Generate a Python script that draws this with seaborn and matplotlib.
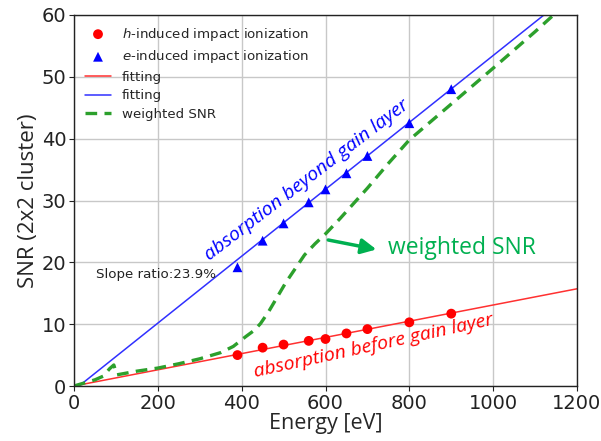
import numpy as np
import pandas as pd
import matplotlib
matplotlib.use("Agg")
import matplotlib.pyplot as plt
import seaborn as sns

# ---- data ----
energy_pts = [390, 450, 500, 560, 600, 650, 700, 800, 900]
snr_h = [5.0, 6.2, 6.7, 7.3, 7.6, 8.5, 9.2, 10.3, 11.7]
snr_e = [19.2, 23.5, 26.3, 29.7, 31.8, 34.4, 37.2, 42.5, 48.0]

# linear fits (slope, x-intercept)
fit_h_slope, fit_h_x0 = 0.0131, 0.0
fit_e_slope, fit_e_x0 = 0.0541, 12.0
fit_range = [0, 1200]

weighted_x = [0, 20, 50, 70, 85, 95, 102, 150, 200, 250, 300, 350, 380, 410,
              430, 445, 465, 485, 505, 525, 550, 575, 600, 635, 700, 750, 800,
              900, 1000, 1100, 1144]
weighted_y = [0, 0.4, 1.0, 1.6, 2.8, 3.4, 1.8, 2.4, 2.9, 3.6, 4.4, 5.4, 6.4, 8.0,
              9.0, 10.1, 12.1, 14.4, 16.7, 18.7, 21.2, 23.0, 24.6, 27.1, 32.0,
              36.0, 39.8, 45.6, 51.4, 57.3, 60.0]

x_ticks = [0, 200, 400, 600, 800, 1000, 1200]
y_ticks = [0, 10, 20, 30, 40, 50, 60]

# ---- plotting ----
sns.set_style("ticks")
plt.rcParams['font.family'] = 'sans-serif'
plt.rcParams['font.sans-serif'] = ['DejaVu Sans']
plt.rcParams['mathtext.fontset'] = 'dejavusans'

fig = plt.figure(figsize=(6.01, 4.41), dpi=100)
ax = fig.add_axes([74/601, 1-386/441, (577-74)/601, (386-15)/441])
ax.grid(True, color="#c8c8c8", lw=1)
ax.set_axisbelow(True)

fx = np.array(fit_range, dtype=float)
fit_h = pd.DataFrame({"x": [max(fit_h_x0, fx[0]), fx[1]]})
fit_h["y"] = fit_h_slope * (fit_h["x"] - fit_h_x0)
fit_e = pd.DataFrame({"x": [max(fit_e_x0, fx[0]), fx[1]]})
fit_e["y"] = fit_e_slope * (fit_e["x"] - fit_e_x0)

pts = pd.DataFrame({"E": energy_pts, "h": snr_h, "e": snr_e})
wdf = pd.DataFrame({"x": weighted_x, "y": weighted_y})

sns.scatterplot(data=pts, x="E", y="h", ax=ax, color="red", marker="o", s=50,
                edgecolor="none", zorder=4, label="$h$-induced impact ionization")
sns.scatterplot(data=pts, x="E", y="e", ax=ax, color="blue", marker="^", s=50,
                edgecolor="none", zorder=4, label="$e$-induced impact ionization")
sns.lineplot(data=fit_h, x="x", y="y", ax=ax, color="#ff3030", lw=1.1, label="fitting")
sns.lineplot(data=fit_e, x="x", y="y", ax=ax, color="#3030ff", lw=1.1, label="fitting")
sns.lineplot(data=wdf, x="x", y="y", ax=ax, color="#2ca02c", lw=2.4, ls=(0, (3.5, 2.2)),
             sort=False, estimator=None, label="weighted SNR")

ax.set_xlim(0, 1200)
ax.set_ylim(0, 60)
ax.set_xticks(x_ticks)
ax.set_yticks(y_ticks)
ax.tick_params(labelsize=14, colors="#222222", pad=2)
for lab in ax.get_xticklabels() + ax.get_yticklabels():
    lab.set_fontfamily("DejaVu Sans")
for s in ax.spines.values():
    s.set_color("#222222")
    s.set_linewidth(1.0)

ax.set_xlabel("Energy [eV]", fontsize=15.5, family="Open Sans", labelpad=0)
ax.set_ylabel("SNR (2x2 cluster)", fontsize=16, family="Open Sans", labelpad=2)

leg = ax.legend(loc="upper left", frameon=False, handlelength=2.0,
                borderaxespad=0.4, labelspacing=0.42,
                prop={"family": "DejaVu Sans", "size": 9.6})

ax.text(52, 18.0, "Slope ratio:23.9%", va="center", ha="left",
        color="#222222", family="DejaVu Sans", fontsize=9.6)

ax.text(556, 33.3, "absorption beyond gain layer", color="blue", fontsize=14,
        family="Open Sans", style="italic", rotation=37.5, ha="center", va="center",
        rotation_mode="anchor")
ax.text(714, 6.5, "absorption before gain layer", color="red", fontsize=14,
        family="Open Sans", style="italic", rotation=12.4, ha="center", va="center",
        rotation_mode="anchor")

green2 = "#00b050"
ax.annotate("", xy=(728, 22.0), xytext=(600, 23.7),
            arrowprops=dict(arrowstyle="-|>,head_length=0.9,head_width=0.45",
                            color=green2, lw=2.5))
ax.text(748, 22.3, "weighted SNR", color=green2, fontsize=16.5, family="Open Sans",
        ha="left", va="center")

fig.savefig("out.png", dpi=100)
